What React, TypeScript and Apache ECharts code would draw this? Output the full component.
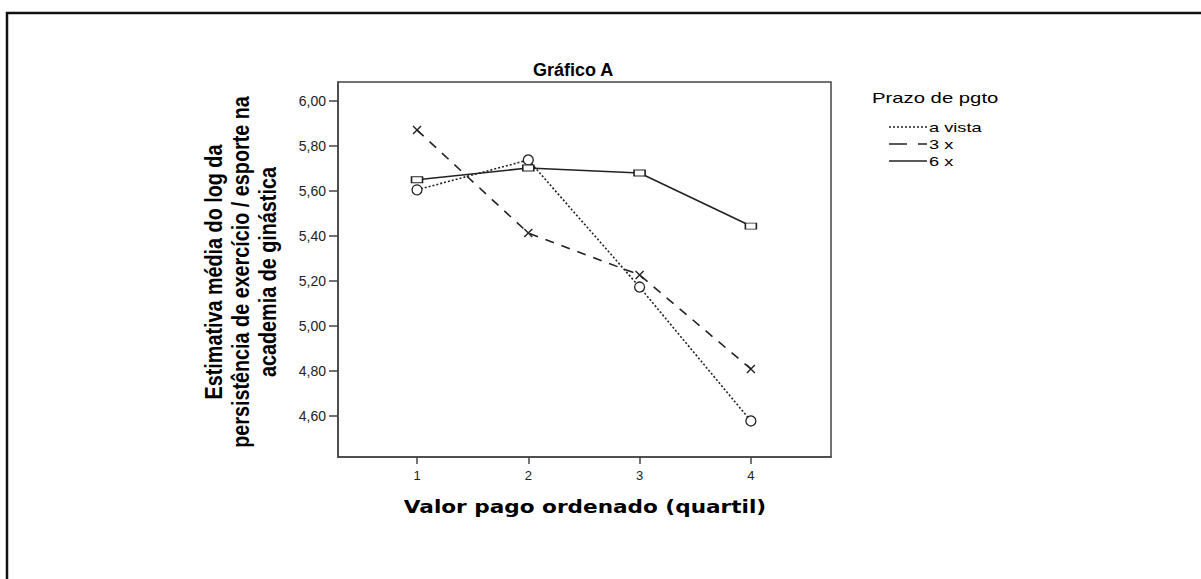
import React, { useEffect, useRef } from "react";
import * as echarts from "echarts";

const quartis = [1, 2, 3, 4];
const aVista = [5.605, 5.738, 5.173, 4.578];
const tresX = [5.871, 5.413, 5.227, 4.809];
const seisX = [5.65, 5.702, 5.68, 5.444];
const yTicks = [4.6, 4.8, 5.0, 5.2, 5.4, 5.6, 5.8, 6.0];
const seriesNames = ["a vista", "3 x", "6 x"];
const titleText = "Gráfico A";
const xTitle = "Valor pago ordenado (quartil)";
const yTitleLines = [
  "Estimativa média do log da",
  "persistência de exercício / esporte na",
  "academia de ginástica",
];
const legendTitle = "Prazo de pgto";

const INK = "#222";

export default function App() {
  const ref = useRef<HTMLDivElement>(null);
  useEffect(() => {
    if (!ref.current) return;
    const chart = echarts.init(ref.current, undefined, { renderer: "svg" });
    const pairs = (ys: number[]) => quartis.map((q, i) => [q, ys[i]]);
    const legendY = [127, 144, 161];
    const dashes: any[] = [[2, 2], [18, 11], null];
    const option: any = {
      animation: false,
      backgroundColor: "#fff",
      grid: {
        left: 338,
        top: 82,
        width: 493,
        height: 375,
        show: true,
        borderColor: "#444",
        borderWidth: 1.5,
        backgroundColor: "transparent",
        containLabel: false,
      },
      xAxis: {
        type: "value",
        min: 0.29,
        max: 4.72,
        axisLine: { show: true, onZero: false, lineStyle: { color: "#444", width: 1.5 } },
        axisTick: { show: true, length: 7, customValues: quartis, lineStyle: { color: "#444", width: 1.5 } },
        axisLabel: {
          customValues: quartis,
          color: "#222",
          fontFamily: "Liberation Sans, Arial, sans-serif",
          fontSize: 13,
          margin: 12,
          formatter: (v: number) => String(v),
        },
        splitLine: { show: false },
      },
      yAxis: {
        type: "value",
        min: 4.4178,
        max: 6.0844,
        axisLine: { show: true, onZero: false, lineStyle: { color: "#444", width: 1.5 } },
        axisTick: { show: true, length: 9, customValues: yTicks, lineStyle: { color: "#444", width: 1.5 } },
        axisLabel: {
          customValues: yTicks,
          color: "#222",
          fontFamily: "Liberation Sans, Arial, sans-serif",
          fontSize: 14,
          margin: 12,
          formatter: (v: number) => v.toFixed(2).replace(".", ","),
        },
        splitLine: { show: false },
      },
      series: [
        {
          name: seriesNames[0],
          type: "line",
          data: pairs(aVista),
          symbol: "circle",
          symbolSize: 10,
          lineStyle: { color: INK, width: 1.6, type: [2, 2] },
          itemStyle: { color: "#fff", borderColor: INK, borderWidth: 1.3 },
          z: 3,
        },
        {
          name: seriesNames[1],
          type: "line",
          data: pairs(tresX),
          symbol: "path://M0,0L10,10M10,0L0,10",
          symbolSize: 8,
          lineStyle: { color: INK, width: 1.6, type: [9, 8] },
          itemStyle: { color: "#fff", borderColor: INK, borderWidth: 1.4 },
          z: 3,
        },
        {
          name: seriesNames[2],
          type: "line",
          data: pairs(seisX),
          symbol: "rect",
          symbolSize: [11, 6],
          lineStyle: { color: INK, width: 1.6, type: "solid" },
          itemStyle: { color: "#fff", borderColor: INK, borderWidth: 1.2 },
          z: 3,
        },
      ],
      graphic: [
        {
          type: "rect",
          shape: { x: 7, y: 13, width: 1400, height: 800 },
          style: { fill: "none", stroke: "#111", lineWidth: 2.5 },
          silent: true,
        },
        {
          type: "text",
          x: 533,
          y: 70,
          style: {
            text: titleText,
            font: "bold 18px 'Liberation Sans', Arial, sans-serif",
            fill: "#000",
            textAlign: "left",
            textVerticalAlign: "middle",
          },
        },
        ...yTitleLines.map((t, i) => ({
          type: "text",
          x: 214 + i * 27,
          y: 272,
          rotation: Math.PI / 2,
          scaleX: 0.86,
          style: {
            text: t,
            font: "bold 23px 'Liberation Sans', Arial, sans-serif",
            fill: "#000",
            textAlign: "center",
            textVerticalAlign: "middle",
          },
        })),
        {
          type: "text",
          x: 585,
          y: 507,
          scaleX: 1.27,
          style: {
            text: xTitle,
            font: "bold 17px 'DejaVu Sans', Verdana, sans-serif",
            fill: "#000",
            textAlign: "center",
            textVerticalAlign: "middle",
          },
        },
        {
          type: "text",
          x: 872,
          y: 98,
          scaleX: 1.45,
          style: {
            text: legendTitle,
            font: "14px 'Liberation Sans', Arial, sans-serif",
            fill: "#000",
            textAlign: "left",
            textVerticalAlign: "middle",
          },
        },
        ...seriesNames.map((n, i) => ({
          type: "line",
          shape: { x1: 889, y1: legendY[i], x2: 927, y2: legendY[i] },
          style: { stroke: INK, lineWidth: 1.6, lineDash: dashes[i] },
        })),
        ...seriesNames.map((n, i) => ({
          type: "text",
          x: 929,
          y: legendY[i],
          scaleX: 1.4,
          style: {
            text: n,
            font: "13px 'Liberation Sans', Arial, sans-serif",
            fill: "#000",
            textAlign: "left",
            textVerticalAlign: "middle",
          },
        })),
      ],
    };
    chart.setOption(option);
    return () => chart.dispose();
  }, []);
  return (
    <div
      ref={ref}
      style={{ position: "fixed", left: 0, top: 0, width: 1201, height: 579, background: "#fff" }}
    />
  );
}
